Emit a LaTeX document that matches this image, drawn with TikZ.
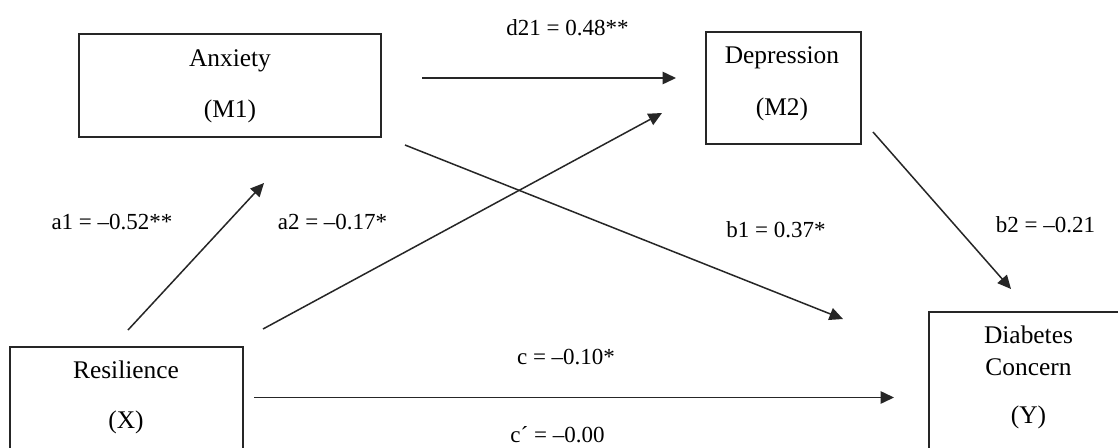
\documentclass[tikz,border=0pt]{standalone}
\usepackage{fontspec}
\setmainfont{Liberation Serif}
\usetikzlibrary{arrows.meta}
\tikzset{
  box/.style={draw=black!85, line width=1.2pt, rectangle, inner sep=0pt},
  nodetext/.style={anchor=base, inner sep=0pt, font=\fontsize{25.4}{30}\selectfont},
  coef/.style={anchor=base, inner sep=0pt, font=\fontsize{23}{28}\selectfont},
  path/.style={line width=1.5pt, draw=black!85, -{Triangle[length=13.5pt,width=12.5pt]}}
}
\begin{document}
\begin{tikzpicture}[x=1pt,y=-1pt]
\useasboundingbox (0,0) rectangle (1118,447);
\clip (0,0) rectangle (1118,447);
\fill[white] (0,0) rectangle (1118,447);
% boxes
\node[box, minimum width=302pt, minimum height=103pt] (M1) at (230,85.5) {};
\node[box, minimum width=155pt, minimum height=112pt] (M2) at (783.5,88) {};
\node[box, minimum width=233pt, minimum height=124pt] (X) at (126.5,409) {};
\node[box, minimum width=199pt, minimum height=160pt] (Y) at (1028.5,392) {};
% box texts
\node[nodetext] (M1a) at (230,66) {Anxiety};
\node[nodetext] (M1b) at (230,117) {(M1)};
\node[nodetext] (M2a) at (782,63) {Depression};
\node[nodetext] (M2b) at (782,115) {(M2)};
\node[nodetext] (Xa) at (126,378) {Resilience};
\node[nodetext] (Xb) at (126,428) {(X)};
\node[nodetext] (Ya) at (1028.5,343) {Diabetes};
\node[nodetext] (Yb) at (1028.5,375) {Concern};
\node[nodetext] (Yc) at (1028.5,423) {(Y)};
% connector end points
\coordinate (d21s) at (422,78);   \coordinate (d21e) at (676,78);
\coordinate (a2s) at (263,329);   \coordinate (a2e) at (662,113);
\coordinate (a1s) at (128,330);   \coordinate (a1e) at (264,183);
\coordinate (b1s) at (405,145);   \coordinate (b1e) at (843,319);
\coordinate (b2s) at (873,132);   \coordinate (b2e) at (1011,289);
\coordinate (cs) at (254,397.5);  \coordinate (ce) at (894,397.5);
% connectors
\draw[path] (d21s) -- (d21e);
\draw[path] (a2s) -- (a2e);
\draw[path] (a1s) -- (a1e);
\draw[path] (b1s) -- (b1e);
\draw[path] (b2s) -- (b2e);
\draw[path] (cs) -- (ce);
% coefficient labels
\node[coef] (ld21) at (567.5,35) {d21 = 0.48**};
\node[coef] (la1) at (112,229) {a1 = –0.52**};
\node[coef] (la2) at (332.5,229) {a2 = –0.17*};
\node[coef] (lb1) at (776,237) {b1 = 0.37*};
\node[coef] (lb2) at (1045.5,232) {b2 = –0.21};
\node[coef] (lc) at (566,364) {c = –0.10*};
\node[coef] (lcp) at (557.5,442) {c´ = –0.00};
\end{tikzpicture}
\end{document}
